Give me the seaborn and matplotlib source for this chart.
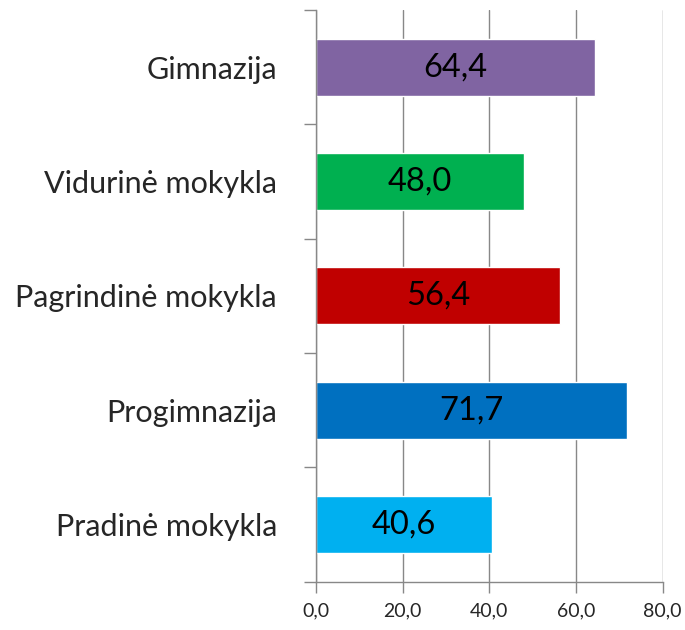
import matplotlib
matplotlib.use("Agg")
import matplotlib.pyplot as plt
import numpy as np
import seaborn as sns

categories = ["Gimnazija", "Vidurinė mokykla", "Pagrindinė mokykla", "Progimnazija", "Pradinė mokykla"]
values = [64.4, 48.0, 56.4, 71.7, 40.6]
bar_colors = ["#8064A2", "#00B050", "#C00000", "#0070C0", "#00B0F0"]
x_ticks = [0, 20, 40, 60, 80]

sns.set_theme(style="white")
plt.rcParams["font.family"] = ["Lato", "DejaVu Sans"]
grey = "#888888"

fig = plt.figure(figsize=(6.85, 6.3), dpi=100)
ax = fig.add_axes([0.4613, 0.0767, 0.5062, 0.9074])

sns.barplot(x=values, y=categories, hue=categories, palette=bar_colors,
            orient="h", width=0.5, legend=False, saturation=1, ax=ax)

# labels inside bars, with decimal comma
for cont, v in zip(ax.containers, values):
    ax.bar_label(cont, labels=[f"{v:.1f}".replace(".", ",")], label_type="center",
                 fontsize=23.5, color="black")

ax.set_xlim(0, 80)
ax.set_ylim(4.5, -0.5)
ax.set_xticks(x_ticks)
ax.set_xticklabels([f"{t:.1f}".replace(".", ",") for t in x_ticks], fontsize=14)
ax.set_yticks(range(len(categories)))
ax.set_yticklabels(categories, fontsize=22)
ax.set_yticks(np.arange(-0.5, len(categories)), minor=True)
ax.tick_params(axis="y", which="major", length=0, pad=28)
ax.tick_params(axis="y", which="minor", length=9, color=grey, width=1, left=True)
ax.tick_params(axis="x", length=8, color=grey, width=1, bottom=True, pad=7)
ax.set_xlabel("")
ax.set_ylabel("")

ax.grid(axis="x", color=grey, linewidth=1)
ax.set_axisbelow(True)
for side in ["top", "right"]:
    ax.spines[side].set_visible(False)
for side in ["left", "bottom"]:
    ax.spines[side].set_color(grey)
    ax.spines[side].set_linewidth(1)

fig.savefig("out.png", dpi=100, facecolor="white")
